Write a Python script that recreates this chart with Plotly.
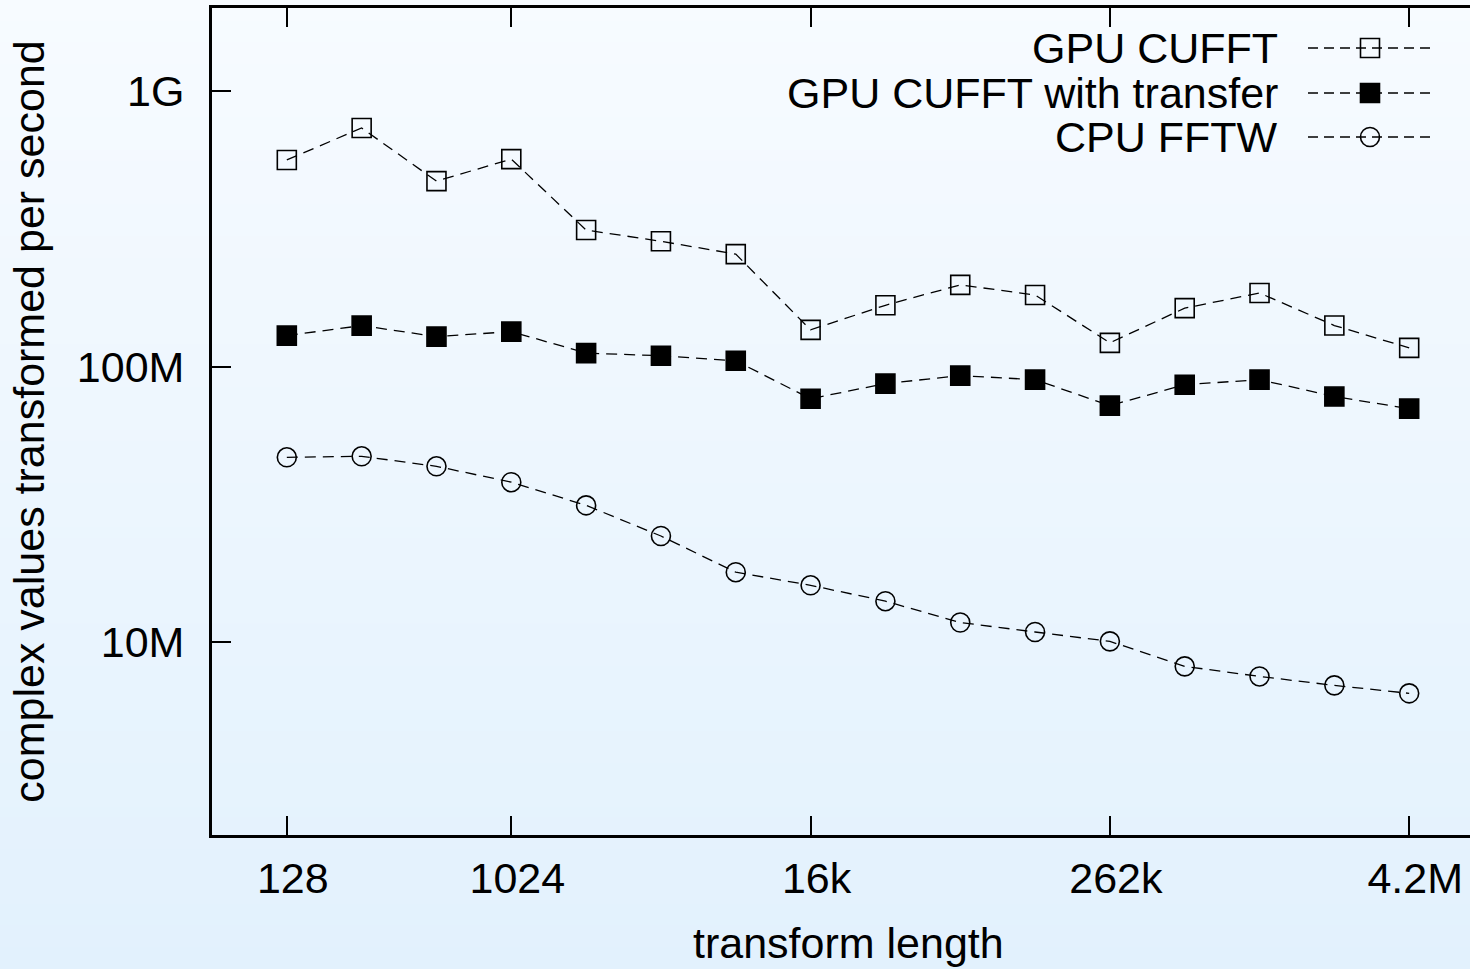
import math
import plotly.graph_objects as go

# ---- data ----
lengths = [2 ** k for k in range(7, 23)]
gpu_cufft = [562e6, 734e6, 471e6, 566e6, 313e6, 285e6, 256e6, 136e6,
             167e6, 198e6, 182e6, 122e6, 163e6, 185e6, 141e6, 117e6]
gpu_transfer = [129.6e6, 140.9e6, 128.5e6, 134e6, 112e6, 109.6e6, 105e6, 76.5e6,
                86.8e6, 92.8e6, 89.7e6, 72.2e6, 86.0e6, 89.7e6, 77.9e6, 70.4e6]
cpu_fftw = [46.9e6, 47.3e6, 43.5e6, 38.1e6, 31.4e6, 24.3e6, 17.96e6, 16.1e6,
            14.1e6, 11.8e6, 10.9e6, 10.08e6, 8.18e6, 7.52e6, 6.98e6, 6.53e6]
series_names = ["GPU CUFFT", "GPU CUFFT with transfer", "CPU FFTW"]
x_tickvals = [128, 1024, 16384, 262144, 4194304]
x_ticktext = ["128", "1024", "16k", "262k", "4.2M"]
y_tickvals = [1e7, 1e8, 1e9]
y_ticktext = ["10M", "100M", "1G"]
x_title = "transform length"
y_title = "complex values transformed per second"

# ---- layout geometry ----
W, H = 1470, 969
ML, MR, MT, MB = 212, 0, 8, 134
FONT = "Liberation Sans, Arial, Helvetica, sans-serif"
FS = 43

plot_w = W - ML - MR
plot_h = H - MT - MB
px_per_oct = 1272 / 17.0
x_lo = 6.0
x_hi = x_lo + plot_w / px_per_oct
x_range = [x_lo * math.log10(2), x_hi * math.log10(2)]
y_range = [math.log10(2e6), math.log10(2e9)]

styles = [
    dict(symbol="square-open", color="black"),
    dict(symbol="square", color="black"),
    dict(symbol="circle-open", color="black"),
]
data_series = [gpu_cufft, gpu_transfer, cpu_fftw]

fig = go.Figure()

# background gradient bands (paper coords, covering whole figure)
top_c = (247, 251, 255)
bot_c = (226, 241, 253)
p_top = 1 + MT / plot_h
p_bot = -MB / plot_h
px_left = -ML / plot_w
n = 90
shapes = []
for i in range(n):
    t0 = i / n
    t1 = (i + 1) / n
    tm = (t0 + t1) / 2
    c = tuple(round(top_c[j] + (bot_c[j] - top_c[j]) * tm) for j in range(3))
    y0 = p_top + (p_bot - p_top) * t0
    y1 = p_top + (p_bot - p_top) * t1
    shapes.append(dict(type="rect", xref="paper", yref="paper",
                       x0=px_left - 0.01, x1=1.02, y0=y0 + 0.001, y1=y1 - 0.001,
                       fillcolor="rgb(%d,%d,%d)" % c, line=dict(width=0),
                       layer="below"))

for name, vals, st in zip(series_names, data_series, styles):
    fig.add_trace(go.Scatter(
        x=lengths, y=vals, mode="lines+markers", name=name, showlegend=False,
        line=dict(color="black", width=1.3, dash="11px,7px"),
        marker=dict(symbol=st["symbol"], size=19, color="black",
                    line=dict(color="black", width=1.6)),
    ))

# custom legend (symbol to the right of right-aligned text)
leg_rows_px = [48, 93, 137]
txt_right_px = 1280
seg_px = (1308, 1432)
annotations = []
for name, st, ypx in zip(series_names, styles, leg_rows_px):
    yp = (H - MB - ypx) / plot_h
    xa = (seg_px[0] - ML) / plot_w
    xb = (seg_px[1] - ML) / plot_w
    xm = (xa + xb) / 2
    fig.add_trace(go.Scatter(
        x=[xa, xm, xb], y=[yp, yp, yp], xaxis="x2", yaxis="y2",
        mode="lines", showlegend=False, hoverinfo="skip",
        line=dict(color="black", width=1.3, dash="10px,6px")))
    fig.add_trace(go.Scatter(
        x=[xm], y=[yp], xaxis="x2", yaxis="y2",
        mode="markers", showlegend=False, hoverinfo="skip",
        marker=dict(symbol=st["symbol"], size=19, color="black",
                    line=dict(color="black", width=1.6))))
    annotations.append(dict(
        x=(txt_right_px - ML) / plot_w, y=yp, xref="paper", yref="paper",
        text=name, showarrow=False, xanchor="right", yanchor="middle",
        font=dict(family=FONT, size=FS, color="black")))

# x-axis title centred under the full (partly hidden) frame
annotations.append(dict(
    x=(848 - ML) / plot_w, y=(H - MB - 943) / plot_h, xref="paper", yref="paper",
    text=x_title, showarrow=False, xanchor="center", yanchor="middle",
    font=dict(family=FONT, size=FS, color="black")))

fig.update_layout(
    width=W, height=H,
    margin=dict(l=ML, r=MR, t=MT, b=MB),
    paper_bgcolor="rgb(237,246,254)",
    plot_bgcolor="rgba(0,0,0,0)",
    font=dict(family=FONT, size=FS, color="black"),
    shapes=shapes,
    annotations=annotations,
    showlegend=False,
    xaxis=dict(
        type="log", range=x_range, tickvals=x_tickvals, ticktext=x_ticktext,
        ticks="inside", ticklen=19, tickwidth=2, tickcolor="black",
        showline=True, linewidth=3, linecolor="black", mirror="ticks",
        showgrid=False, zeroline=False,
        tickfont=dict(family=FONT, size=FS, color="black"),
        ticklabelstandoff=3, ticklabelshift=6,
    ),
    yaxis=dict(
        type="log", range=y_range, tickvals=y_tickvals, ticktext=y_ticktext,
        ticks="inside", ticklen=19, tickwidth=2, tickcolor="black",
        showline=True, linewidth=3, linecolor="black", mirror=False,
        showgrid=False, zeroline=False,
        tickfont=dict(family=FONT, size=FS, color="black"),
        ticklabelstandoff=16,
        title=dict(text=y_title, standoff=19,
                   font=dict(family=FONT, size=FS, color="black")),
    ),
    # right-hand tick stubs (frame's right edge lies just beyond the page)
    yaxis3=dict(
        type="log", range=y_range, tickvals=y_tickvals, overlaying="y",
        anchor="x", side="right", ticks="inside", ticklen=5, tickwidth=2,
        tickcolor="black", showticklabels=False, showline=False,
        showgrid=False, zeroline=False, fixedrange=True,
    ),
    xaxis2=dict(overlaying="x", range=[0, 1], visible=False, fixedrange=True),
    yaxis2=dict(overlaying="y", range=[0, 1], visible=False, fixedrange=True),
)

fig.write_html(
    "out.html",
    config={"displayModeBar": False},
    post_script="document.body.style.margin='0';document.body.style.padding='0';"
                "document.documentElement.style.overflow='hidden';",
)
